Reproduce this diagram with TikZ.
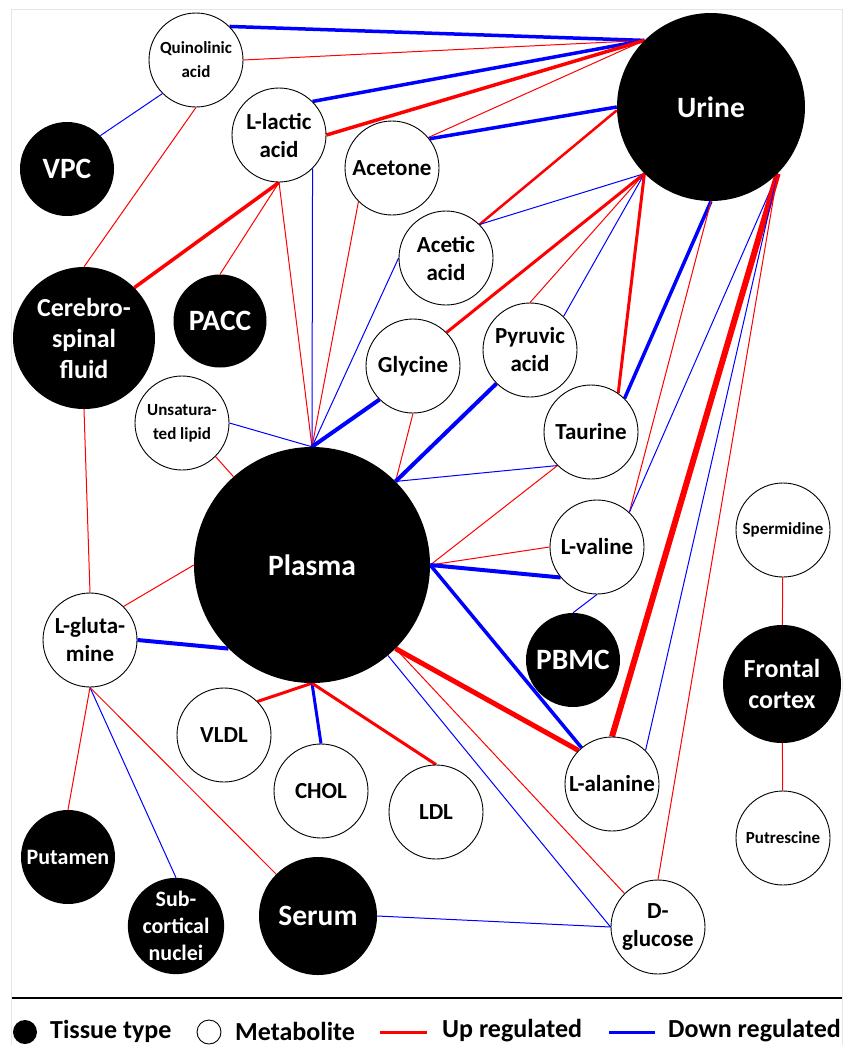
\documentclass[tikz,border=0pt]{standalone}
\usepackage{fontspec}
\setmainfont{Carlito}
\usetikzlibrary{backgrounds}

\newcommand{\bigfont}{\bfseries\fontsize{29.5}{33}\selectfont}
\newcommand{\midfont}{\bfseries\fontsize{26}{31}\selectfont}
\newcommand{\smlfont}{\bfseries\fontsize{22}{27}\selectfont}
\newcommand{\metfont}{\bfseries\fontsize{23}{28}\selectfont}
\newcommand{\tinyfont}{\bfseries\fontsize{17}{24}\selectfont}
\newcommand{\legfont}{\bfseries\fontsize{26}{30}\selectfont}

\begin{document}
\begin{tikzpicture}[x=1pt,y=-1pt,
    tissue/.style={circle,fill=black,text=white,inner sep=0pt,minimum size=#1,align=center},
    metab/.style={circle,draw=black,fill=white,line width=0.9pt,inner sep=0pt,minimum size=94pt,align=center,font=\metfont},
    upreg/.style={draw=red,line width=#1},
    downreg/.style={draw=blue,line width=#1},
    upreg/.default=1pt,
    downreg/.default=1pt]
  \useasboundingbox (0,0) rectangle (843,1045);
  \draw[black!10] (11,1045) -- (11,9) -- (842,9) -- (842,1045);

  \node[tissue=188pt,font=\bigfont] (urine) at (711,107) {Urine};
  \node[tissue=236pt,font=\bigfont] (plasma) at (312,565) {Plasma};
  \node[tissue=94pt,font=\bigfont] (vpc) at (67,169) {VPC};
  \node[tissue=142pt,font=\midfont] (csf) at (84,338) {Cerebro-\\spinal\\fluid};
  \node[tissue=93pt,font=\bigfont] (pacc) at (220,321) {PACC};
  \node[tissue=94pt,font=\bigfont] (pbmc) at (573,660) {PBMC};
  \node[tissue=118pt,font=\midfont] (frontal) at (782,684) {Frontal\\cortex};
  \node[tissue=94pt,font=\smlfont] (putamen) at (68,857) {Putamen};
  \node[tissue=95pt,font=\smlfont] (subcort) at (176,926) {Sub-\\cortical\\nuclei};
  \node[tissue=118pt,font=\bigfont] (serum) at (318,916) {Serum};

  \node[metab,font=\tinyfont] (quin) at (196,60) {Quinolinic\\acid};
  \node[metab] (lactic) at (279,135) {L-lactic\\acid};
  \node[metab] (acetone) at (392,168) {Acetone};
  \node[metab] (acetic) at (446,258) {Acetic\\acid};
  \node[metab] (glycine) at (413,366) {Glycine};
  \node[metab] (pyruvic) at (530,350) {Pyruvic\\acid};
  \node[metab] (taurine) at (591,432) {Taurine};
  \node[metab,font=\tinyfont] (unsat) at (182,423) {Unsatura-\\ted lipid};
  \node[metab] (lvaline) at (597,547) {L-valine};
  \node[metab,font=\tinyfont] (spermidine) at (783,530) {Spermidine};
  \node[metab] (glut) at (90,640) {L-gluta-\\mine};
  \node[metab] (vldl) at (224,735) {VLDL};
  \node[metab] (chol) at (321,791) {CHOL};
  \node[metab] (ldl) at (436,812) {LDL};
  \node[metab] (lalanine) at (612,784) {L-alanine};
  \node[metab,font=\tinyfont] (putrescine) at (783,838) {Putrescine};
  \node[metab] (dglucose) at (658,927) {D-\\glucose};

  \begin{scope}[on background layer]
    \draw[downreg=3.5pt] (quin.45) -- (urine.135);
    \draw[upreg] (quin.0) -- (urine.135);
    \draw[downreg=3.5pt] (lactic.45) -- (urine.135);
    \draw[upreg=3.5pt] (lactic.0) -- (urine.135);
    \draw[upreg] (acetone.40) -- (urine.135);
    \draw[downreg=3.5pt] (acetone.38) -- (urine.180);
    \draw[upreg=2.5pt] (acetic.45) -- (urine.182);
    \draw[downreg] (acetic.45) -- (urine.225);
    \draw[upreg=3pt] (glycine.45) -- (urine.225);
    \draw[upreg] (pyruvic.90) -- (urine.225);
    \draw[downreg] (pyruvic.45) -- (urine.225);
    \draw[upreg=3pt] (taurine.55) -- (urine.225);
    \draw[downreg=3.5pt] (taurine.45) -- (urine.270);
    \draw[upreg] (lvaline.47) -- (urine.270);
    \draw[downreg] (lvaline.47) -- (urine.315);
    \draw[upreg=6pt] (lalanine.90) -- (urine.315);
    \draw[downreg] (lalanine.45) -- (urine.315);
    \draw[upreg] (dglucose.90) -- (urine.315);

    \draw[upreg] (lactic.270) -- (plasma.90);
    \draw[downreg] (lactic.-45) -- (plasma.90);
    \draw[upreg] (acetone.225) -- (plasma.90);
    \draw[downreg] (acetic.180) -- (plasma.90);
    \draw[downreg=4pt] (glycine.225) -- (plasma.90);
    \draw[downreg] (unsat.0) -- (plasma.90);
    \draw[upreg] (unsat.-45) -- (plasma);
    \draw[upreg] (glycine.270) -- (plasma.45);
    \draw[downreg=4pt] (pyruvic.225) -- (plasma.45);
    \draw[downreg] (taurine.225) -- (plasma.45);
    \draw[upreg] (taurine.225) -- (plasma.0);
    \draw[upreg] (lvaline.180) -- (plasma.0);
    \draw[downreg=4pt] (lvaline.220) -- (plasma.0);
    \draw[downreg=3.5pt] (lalanine.130) -- (plasma.0);
    \draw[upreg=5pt] (lalanine.135) -- (plasma.-45);
    \draw[upreg] (dglucose.135) -- (plasma.-45);
    \draw[downreg] (dglucose.180) -- (plasma.-50);
    \draw[upreg=3pt] (vldl.45) -- (plasma.270);
    \draw[downreg=3pt] (chol.90) -- (plasma.270);
    \draw[upreg=3pt] (ldl.90) -- (plasma.270);
    \draw[upreg] (glut.45) -- (plasma.180);
    \draw[downreg=4pt] (glut.0) -- (plasma.225);

    \draw[upreg] (glut.90) -- (csf.270);
    \draw[upreg] (glut.270) -- (putamen.90);
    \draw[downreg] (glut.270) -- (subcort.90);
    \draw[upreg] (glut.270) -- (serum.135);
    \draw[downreg] (serum.0) -- (dglucose.180);
    \draw[upreg] (quin.270) -- (csf.90);
    \draw[downreg] (quin.225) -- (vpc.45);
    \draw[upreg=3.5pt] (lactic.270) -- (csf.45);
    \draw[upreg] (lactic.270) -- (pacc.90);
    \draw[upreg] (spermidine) -- (frontal);
    \draw[upreg] (frontal) -- (putrescine);
    \draw[downreg] (lvaline.270) -- (pbmc.90);
  \end{scope}

  \draw[line width=1.2pt] (12,998) -- (842,998);
  \node[circle,fill=black,minimum size=24pt,inner sep=0pt] (legtissue) at (25,1032) {};
  \node[anchor=west,inner sep=0pt,font=\legfont] (legtissuetxt) at (50,1031) {Tissue type};
  \node[circle,draw=black,line width=0.9pt,minimum size=24pt,inner sep=0pt] (legmetab) at (209,1032) {};
  \node[anchor=west,inner sep=0pt,font=\legfont] (legmetabtxt) at (235,1031) {Metabolite};
  \coordinate (upa) at (380,1032);
  \coordinate (upb) at (427,1032);
  \draw[upreg=3pt] (upa) -- (upb);
  \node[anchor=west,inner sep=0pt,font=\legfont] (leguptxt) at (442,1031) {Up regulated};
  \coordinate (downa) at (609,1032);
  \coordinate (downb) at (655,1032);
  \draw[downreg=3pt] (downa) -- (downb);
  \node[anchor=west,inner sep=0pt,font=\legfont] (legdowntxt) at (668,1031) {Down regulated};
\end{tikzpicture}
\end{document}
